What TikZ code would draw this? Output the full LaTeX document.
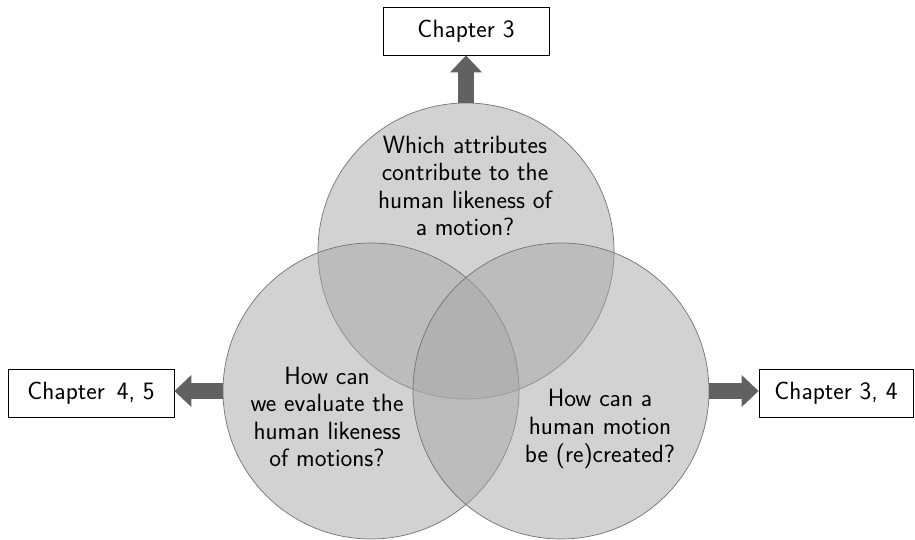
\documentclass[tikz,border=0pt]{standalone}
\usepackage{fontspec}
\usetikzlibrary{arrows.meta}
\begin{document}
\begin{tikzpicture}[x=1pt,y=-1pt,
  venn/.style={circle, minimum size=296pt, inner sep=0pt, fill=black!35, fill opacity=0.5, draw=black!55, line width=0.7pt},
  qtext/.style={align=center, font=\sffamily\fontsize{25}{27.6}\selectfont, inner sep=0pt},
  chapbox/.style={draw=black, line width=0.8pt, fill=white, inner sep=0pt, font=\sffamily\fontsize{25}{27.6}\selectfont, minimum height=48pt},
  fat/.style={draw=black!62, line width=16pt, -{Triangle[width=31pt,length=17pt]}}
]
\useasboundingbox (0,0) rectangle (915,540);
\node[venn] (ctop) at (466,251) {};
\node[venn] (cleft) at (371,391) {};
\node[venn] (cright) at (561,391) {};
\node[chapbox, minimum width=166pt] (b3) at (466,31) {Chapter 3};
\node[chapbox, minimum width=166pt] (b45) at (91,393) {Chapter\, 4, 5};
\node[chapbox, minimum width=154pt] (b34) at (836,393) {Chapter 3, 4};
\draw[fat] (ctop.north) -- (b3.south);
\draw[fat] (cleft.west) -- (cleft.west -| b45.east);
\draw[fat] (cright.east) -- (cright.east -| b34.west);
\node[qtext] (ttop) at (465,186) {Which attributes\\contribute to the\\human likeness of\\a motion?};
\node[qtext] (tleft) at (327,417) {How can\\we evaluate the\\human likeness\\of motions?};
\node[qtext] (tright) at (600,429) {How can a\\human motion\\be (re)created?};
\end{tikzpicture}
\end{document}
